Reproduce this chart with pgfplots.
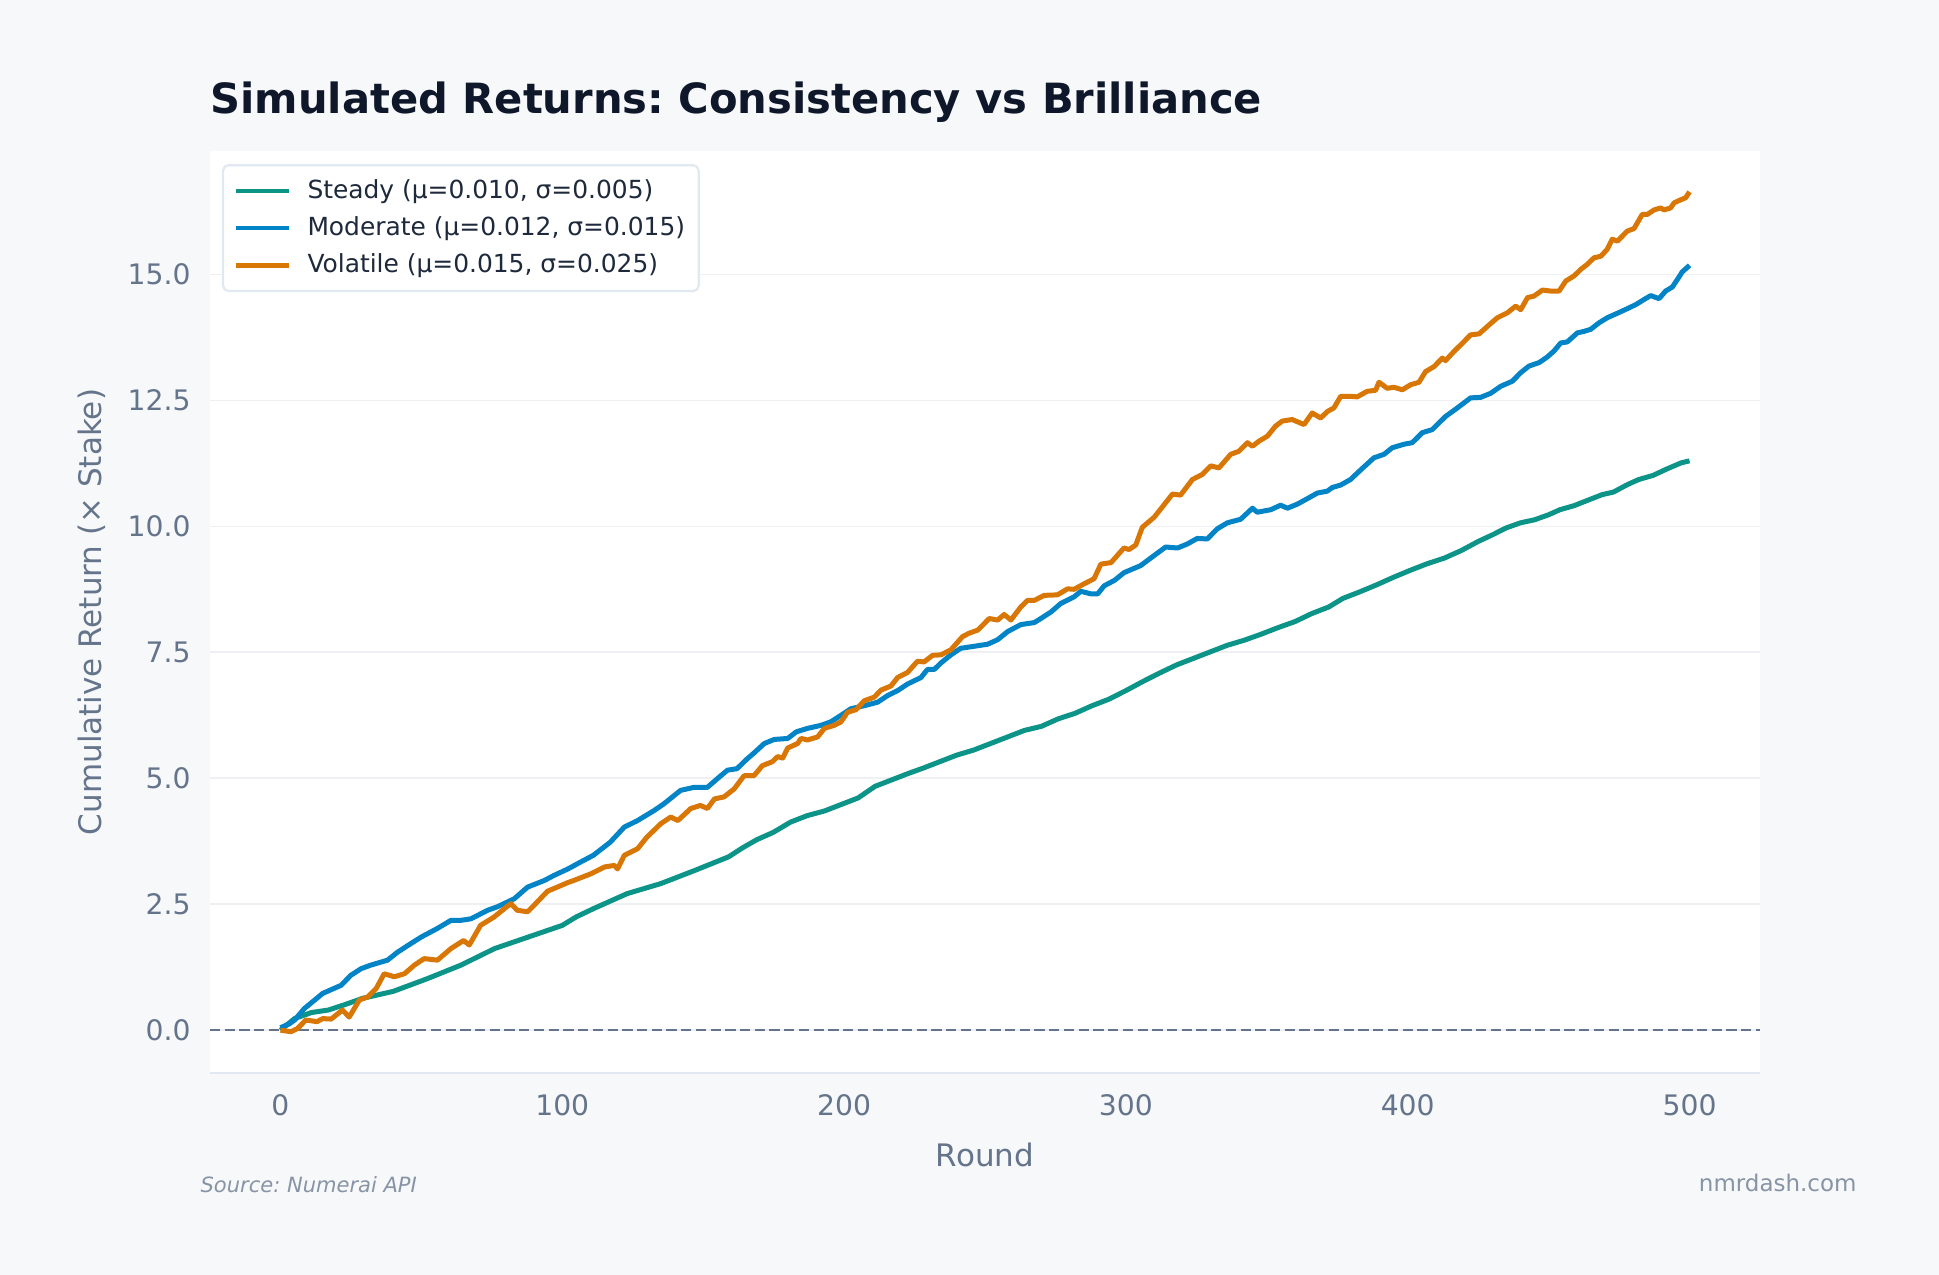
\documentclass[border=0pt]{standalone}
\usepackage{fontspec}
\setmainfont{DejaVu Sans}[BoldFont={DejaVu Sans Bold},ItalicFont={DejaVu Sans Oblique}]
\usepackage{pgfplots}
\pgfplotsset{compat=1.18}
\frenchspacing

\definecolor{bgfig}{HTML}{F7F8FA}
\definecolor{steady}{HTML}{0D9488}
\definecolor{moderate}{HTML}{0284C7}
\definecolor{volatile}{HTML}{D97706}
\definecolor{titlecol}{HTML}{0F172A}
\definecolor{legtext}{HTML}{1E293B}
\definecolor{labcol}{HTML}{64748B}
\definecolor{gridcol}{HTML}{EEF0F3}
\definecolor{spinecol}{HTML}{E2E8F0}
\definecolor{footcol}{HTML}{8794A6}

% 1 px of the 1939x1275 reference = 0.36bp
\begin{document}
\begin{tikzpicture}
\fill[bgfig] (0bp,0bp) rectangle (698.04bp,459bp);
\begin{axis}[
	at={(75.6bp,72.72bp)}, anchor=south west,
	width=558bp, height=331.92bp, scale only axis,
	xmin=-25, xmax=525, ymin=-0.85, ymax=17.45,
	axis background/.style={fill=white},
	axis line style={draw=none},
	major tick length=0pt,
	xtick={0,100,...,500},
	ytick={0,2.5,5,7.5,10,12.5,15},
	ymajorgrids, grid style={gridcol, line width=0.6bp},
	/pgf/number format/assume math mode=true,
	tick label style={font=\fontsize{10.2}{12}\selectfont, text=labcol},
	xticklabel style={anchor=north, inner sep=0pt, yshift=-7.6bp},
	yticklabel style={anchor=east, inner sep=0pt, xshift=-6.8bp,
		/pgf/number format/.cd, fixed, fixed zerofill, precision=1},
	scaled y ticks=false,
	xlabel={Round},
	ylabel={Cumulative Return (× Stake)},
	every axis x label/.style={at={(axis description cs:0.5,0)}, yshift=-29.5bp, anchor=center,
		font=\fontsize{11.2}{13}\selectfont, text=labcol},
	every axis y label/.style={at={(axis description cs:0,0.5)}, xshift=-42.7bp, rotate=90, anchor=center,
		font=\fontsize{11.2}{13}\selectfont, text=labcol},
	title={Simulated Returns: Consistency vs Brilliance},
	every axis title/.style={at={(axis description cs:0,1)}, anchor=base west, yshift=13.6bp,
		inner sep=0pt, font=\bfseries\fontsize{15.05}{18}\selectfont, text=titlecol},
	legend cell align=left,
	legend image code/.code={\draw[#1, line width=1.6bp] (0bp,0bp) -- (19.1bp,0bp);
		\path[draw=none] (0bp,0bp) -- (24.7bp,0bp);},
	legend style={at={(axis description cs:0,1)}, anchor=north west,
		xshift=4.3bp, yshift=-4.7bp,
		draw=spinecol, line width=0.8bp, fill=white, rounded corners=2bp,
		font=\fontsize{9.0}{11}\selectfont, text=legtext,
		inner xsep=3.9bp, inner ysep=4.1bp, row sep=3.1bp,
		nodes={inner sep=1bp}},
	clip=false,
]
\draw[spinecol, line width=0.8bp] (rel axis cs:0,0) -- (rel axis cs:1,0);
\addplot[forget plot, labcol, line width=0.9bp, dash pattern=on 3.7bp off 1.6bp] coordinates {(-25,0) (525,0)};

\addplot[steady, line width=1.8bp, line join=round] coordinates {
(0,0) (5,0.23) (11,0.35) (17,0.40) (23,0.51) (29,0.63) (40,0.77) (52,1.02) (64,1.29) (76,1.62)
(88,1.85) (100,2.08) (105,2.25) (111,2.41) (123,2.71) (135,2.91) (147,3.17) (159,3.44) (164,3.62)
(169,3.78) (175,3.93) (181,4.13) (187,4.26) (193,4.35) (199,4.48) (205,4.61) (211,4.84) (217,4.97)
(223,5.10) (228,5.20) (234,5.33) (240,5.46) (246,5.56) (252,5.69) (258,5.82) (264,5.95) (270,6.03)
(276,6.18) (282,6.29) (288,6.44) (294,6.57) (300,6.74) (306,6.92) (312,7.09) (318,7.25) (324,7.38)
(330,7.51) (336,7.64) (342,7.74) (348,7.86) (354,7.99) (360,8.11) (366,8.27) (372,8.40) (377,8.57)
(383,8.70) (389,8.84) (395,8.99) (401,9.13) (407,9.26) (413,9.37) (419,9.52) (425,9.70) (430,9.83)
(435,9.97) (440,10.07) (445,10.13) (450,10.23) (454,10.33) (459,10.41) (464,10.52) (469,10.63)
(473,10.68) (478,10.83) (482,10.93) (487,11.01) (492,11.14) (497,11.26) (500,11.30)
};
\addlegendentry{Steady (μ=0.010, σ=0.005)}

\addplot[moderate, line width=1.8bp, line join=round] coordinates {
(0,0.05) (3,0.12) (5,0.20) (8.5,0.43) (15,0.73) (21.5,0.89) (25,1.09) (28.6,1.22) (32,1.29) (38,1.39)
(41.6,1.55) (46.3,1.72) (50,1.85) (55.7,2.02) (60.5,2.18) (64,2.18) (67.6,2.21) (73.5,2.38) (77,2.45)
(83,2.61) (87.7,2.84) (93.6,2.97) (97,3.07) (102,3.20) (106.6,3.34) (111,3.47) (117,3.73) (122,4.03)
(126.7,4.16) (132.6,4.36) (136,4.49) (142,4.76) (146.8,4.82) (151.5,4.82) (155,4.99) (158.6,5.16)
(162,5.19) (165.7,5.39) (168,5.50) (171.7,5.69) (175.2,5.77) (180,5.79) (183,5.92) (187,5.99)
(191.8,6.05) (195.3,6.12) (198.9,6.25) (202.4,6.38) (207.2,6.44) (211.9,6.51) (215.4,6.64) (219,6.74)
(222.5,6.87) (227.3,7.00) (229.6,7.16) (232,7.16) (234.4,7.29) (237.9,7.45) (241.4,7.58) (246.2,7.62)
(250.9,7.66) (254.5,7.75) (258,7.91) (262.7,8.05) (267.5,8.09) (269.8,8.17) (273.4,8.30) (276.9,8.47)
(281.6,8.60) (284,8.71) (287.6,8.66) (290,8.66) (292.3,8.82) (296,8.93) (299.3,9.08) (305.2,9.22)
(310,9.42) (314.1,9.59) (318.3,9.57) (321.8,9.65) (325.3,9.76) (328.9,9.75) (332.4,9.95) (336,10.07)
(340.7,10.14) (344.9,10.36) (346.6,10.28) (351.4,10.33) (354.9,10.42) (357.3,10.36) (360.8,10.44)
(364.4,10.55) (367.9,10.66) (371.5,10.70) (373.2,10.77) (376.2,10.82) (379.7,10.93) (383.3,11.12)
(388,11.36) (391.6,11.43) (394.5,11.56) (398.7,11.63) (401.6,11.66) (405.2,11.86) (408.7,11.92)
(413.4,12.18) (417.6,12.35) (422.3,12.55) (425.9,12.56) (429.4,12.64) (433,12.78) (437.1,12.88)
(440.1,13.05) (443,13.18) (446.6,13.25) (449.5,13.36) (451.9,13.48) (454.3,13.64) (456.6,13.66)
(460.2,13.84) (462.6,13.87) (464.9,13.91) (467.9,14.04) (470.8,14.14) (474.4,14.23) (477.9,14.32)
(480.9,14.40) (483.8,14.50) (486.2,14.58) (489.2,14.52) (491.5,14.67) (493.9,14.75) (495.7,14.90)
(497.4,15.05) (500,15.18)
};
\addlegendentry{Moderate (μ=0.012, σ=0.015)}

\addplot[volatile, line width=1.8bp, line join=round] coordinates {
(0,0) (3.7,-0.03) (6,0.03) (9,0.20) (13,0.17) (15,0.23) (18,0.22) (22,0.40) (24.4,0.26) (28,0.60)
(31,0.66) (34,0.83) (36.8,1.12) (40.4,1.06) (44,1.12) (47.5,1.29) (51,1.42) (55.7,1.39) (60.5,1.62)
(65,1.78) (67,1.69) (71,2.08) (75.9,2.25) (79.4,2.41) (81.8,2.51) (84,2.38) (87.7,2.35) (90,2.48)
(94.8,2.76) (97,2.81) (102,2.93) (104,2.97) (110,3.10) (115,3.24) (118.5,3.27) (119.6,3.20) (122,3.47)
(126.7,3.60) (130,3.83) (135,4.10) (138.5,4.23) (141,4.16) (145.6,4.40) (149,4.46) (151.5,4.40)
(154,4.59) (157.4,4.63) (161,4.79) (164.5,5.05) (168,5.05) (171,5.25) (174.6,5.33) (176.4,5.43)
(178.2,5.40) (180,5.60) (183.5,5.69) (184.7,5.79) (187,5.76) (190.6,5.82) (193,5.99) (196.5,6.05)
(198.9,6.12) (201.2,6.31) (204.2,6.36) (207.2,6.54) (210.7,6.61) (213.1,6.75) (216.6,6.83) (219,7.00)
(222.5,7.10) (226,7.32) (228.4,7.31) (231.4,7.44) (234.4,7.45) (237.9,7.55) (242,7.81) (244.4,7.88)
(247.4,7.94) (251.5,8.17) (254.5,8.14) (256.8,8.25) (259.2,8.14) (262.7,8.40) (265.1,8.53) (267.5,8.53)
(271,8.63) (275.7,8.64) (279.3,8.76) (281.6,8.75) (285.2,8.86) (288.7,8.96) (291.1,9.25) (294.7,9.28)
(299.3,9.57) (301.1,9.54) (303.5,9.63) (305.8,9.98) (310,10.18) (312.3,10.34) (316.5,10.64)
(319.4,10.62) (323.6,10.93) (327.1,11.03) (330.1,11.20) (333,11.16) (337.2,11.43) (340.1,11.49)
(343.1,11.66) (344.9,11.59) (347.2,11.69) (350.2,11.79) (353.1,11.99) (355.5,12.09) (359,12.12)
(363.2,12.02) (366.1,12.25) (369.1,12.15) (371.5,12.28) (373.8,12.35) (376.2,12.58) (379.7,12.58)
(382.1,12.57) (385.6,12.68) (388.6,12.70) (389.8,12.86) (392.7,12.74) (395.1,12.76) (398.1,12.71)
(401,12.81) (404,12.86) (406.3,13.07) (409.3,13.17) (412.3,13.34) (413.4,13.29) (416.4,13.47)
(419.3,13.63) (422.3,13.80) (425.3,13.82) (428.3,13.97) (431.8,14.14) (435.4,14.24) (438.3,14.37)
(440.1,14.30) (442.5,14.54) (444.8,14.57) (447.8,14.69) (450.7,14.67) (453.7,14.67) (456.1,14.87)
(459,14.97) (461.4,15.10) (463.7,15.20) (466.1,15.33) (468.5,15.36) (470.8,15.50) (472.6,15.70)
(474.4,15.66) (477.9,15.86) (480.3,15.91) (483.2,16.19) (485,16.19) (487.4,16.28) (489.8,16.32)
(490.9,16.28) (493.3,16.32) (494.5,16.42) (496.8,16.48) (498.6,16.52) (500,16.64)
};
\addlegendentry{Volatile (μ=0.015, σ=0.025)}
\end{axis}
\node[anchor=base west, inner sep=0pt, text=footcol, font=\itshape\fontsize{7.6}{10}\selectfont] at (72bp,29.77bp) {Source: Numerai API};
\node[anchor=base east, inner sep=0pt, text=footcol, font=\fontsize{8.3}{10}\selectfont] at (668.52bp,30.24bp) {nmrdash.com};
\pgfresetboundingbox
\path[use as bounding box] (0bp,0bp) rectangle (698.04bp,459bp);
\end{tikzpicture}
\end{document}
